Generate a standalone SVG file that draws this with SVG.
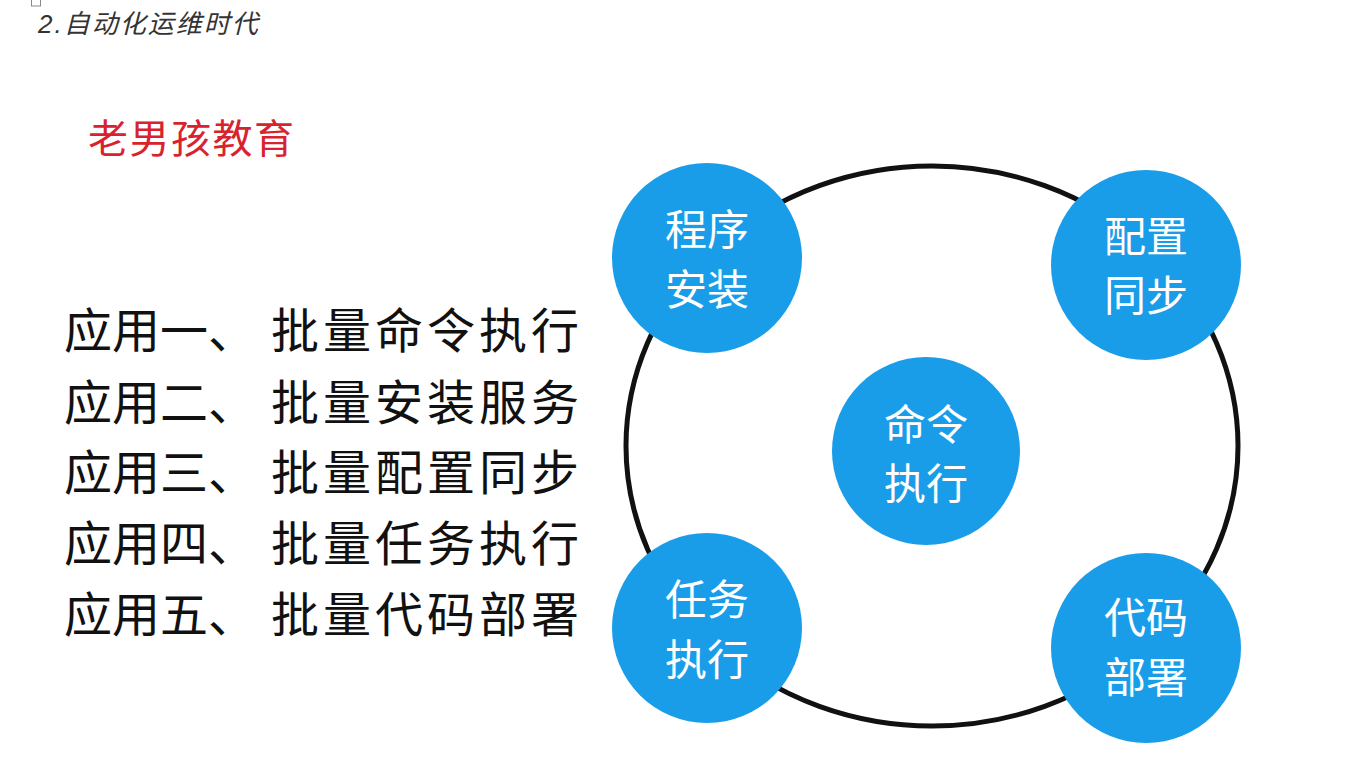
<svg xmlns="http://www.w3.org/2000/svg" width="1369" height="767" viewBox="0 0 1369 767">
<style>
.cjk{font-family:"Noto Sans CJK SC","Noto Sans CJK JP",sans-serif}
.node{fill:#1a9de9}
.nt{font-family:"Noto Sans CJK SC",sans-serif;font-size:42px;fill:#ffffff;text-anchor:middle}
.li{font-family:"Noto Sans CJK SC",sans-serif;font-size:48px;fill:#111111;font-weight:400}
.b{letter-spacing:4px}
</style>
<rect width="1369" height="767" fill="#ffffff"/>
<rect x="31.5" y="-2" width="9" height="8" fill="none" stroke="#888" stroke-width="1"/>
<text x="38" y="33" font-family="Liberation Sans,'Noto Sans CJK SC',sans-serif" font-size="26" font-style="italic" fill="#333" letter-spacing="2">2.<tspan class="cjk">自动化运维时代</tspan></text>
<text x="88" y="153" class="cjk" font-size="40" fill="#d8232e" letter-spacing="1.5">老男孩教育</text>
<g id="list">
<text y="348" class="li"><tspan x="64">应用一、</tspan><tspan x="271" class="b">批量命令执行</tspan></text>
<text y="420" class="li"><tspan x="64">应用二、</tspan><tspan x="271" class="b">批量安装服务</tspan></text>
<text y="490" class="li"><tspan x="64">应用三、</tspan><tspan x="271" class="b">批量配置同步</tspan></text>
<text y="561" class="li"><tspan x="64">应用四、</tspan><tspan x="271" class="b">批量任务执行</tspan></text>
<text y="632" class="li"><tspan x="64">应用五、</tspan><tspan x="271" class="b">批量代码部署</tspan></text>
</g>
<g id="connectors">
<ellipse cx="932" cy="446" rx="306" ry="280" fill="none" stroke="#111" stroke-width="5"/>
</g>
<g id="n1"><circle class="node" cx="707" cy="258" r="95"/><text class="nt" x="707" y="245">程序</text><text class="nt" x="707" y="305">安装</text></g>
<g id="n2"><circle class="node" cx="1146" cy="265" r="95"/><text class="nt" x="1146" y="252">配置</text><text class="nt" x="1146" y="311">同步</text></g>
<g id="n3"><circle class="node" cx="926" cy="451" r="94"/><text class="nt" x="926" y="440">命令</text><text class="nt" x="926" y="499">执行</text></g>
<g id="n4"><circle class="node" cx="707" cy="628" r="95"/><text class="nt" x="707" y="615">任务</text><text class="nt" x="707" y="675">执行</text></g>
<g id="n5"><circle class="node" cx="1146" cy="648" r="95"/><text class="nt" x="1146" y="633">代码</text><text class="nt" x="1146" y="693">部署</text></g>
</svg>
